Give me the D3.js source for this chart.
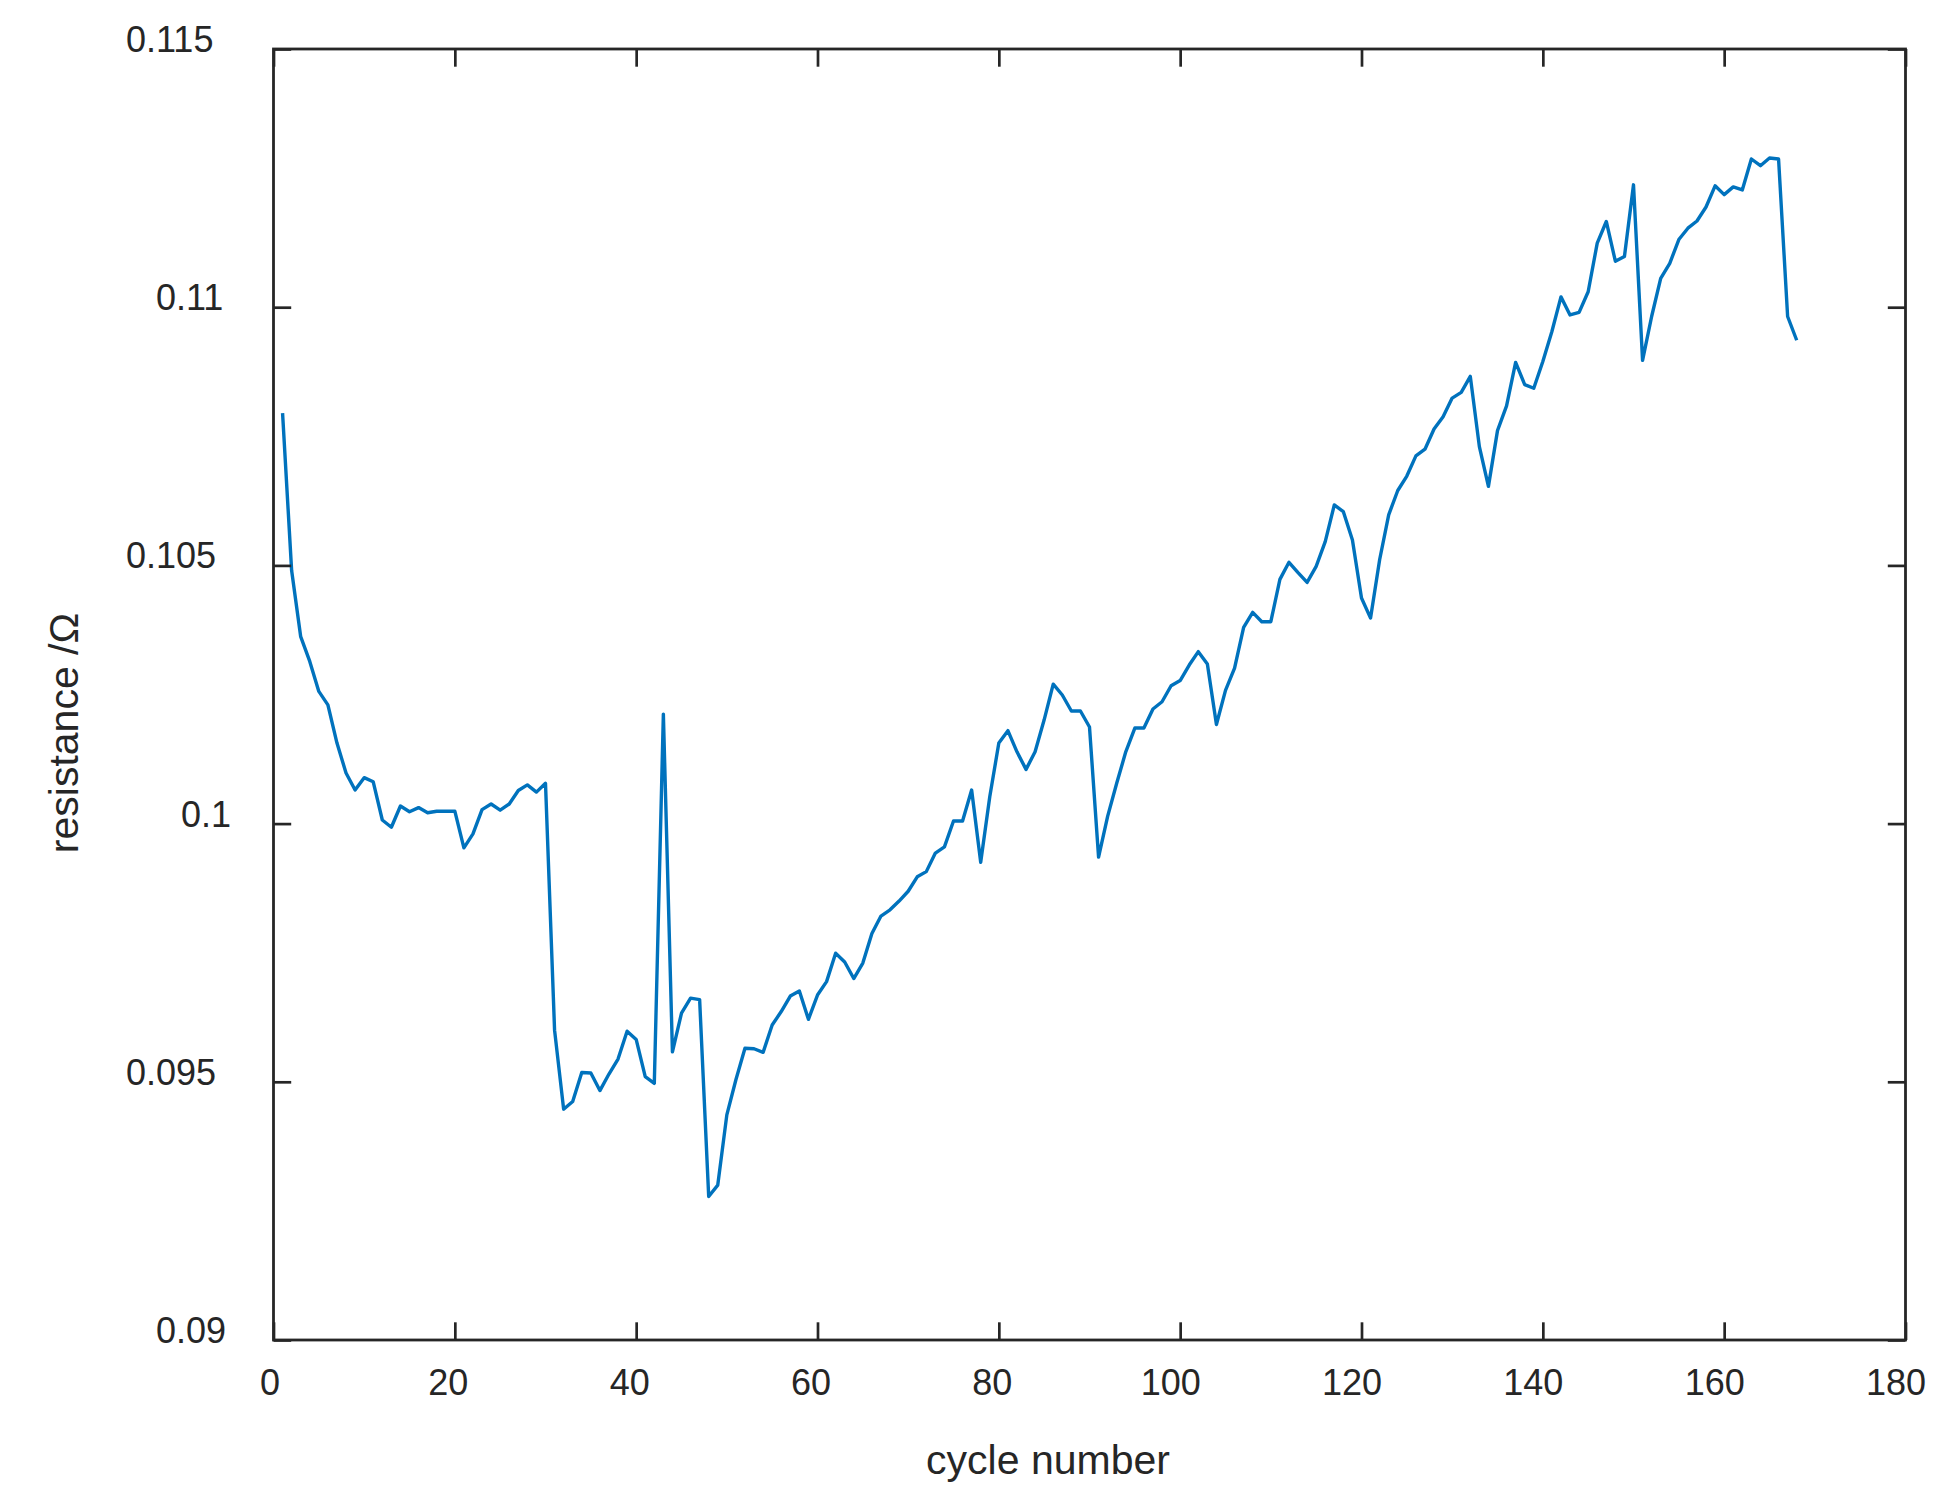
<!DOCTYPE html>
<html>
<head>
<meta charset="utf-8">
<script src="https://cdn.jsdelivr.net/npm/d3@7"></script>
<style>
  html, body { margin: 0; padding: 0; background: #ffffff; }
  svg { display: block; }
  text { font-family: "Liberation Sans", Arial, Helvetica, sans-serif; fill: #262626; }
</style>
</head>
<body>
<script>
// ---------------- data ----------------
const cycles = d3.range(1, 169);
const resistance = [
  0.10795, 0.10490, 0.10362, 0.10314, 0.10256, 0.10230, 0.10156, 0.10098, 0.10065, 0.10089,
  0.10081, 0.10007, 0.09993, 0.10034, 0.10023, 0.10031, 0.10021, 0.10024, 0.10024, 0.10024,
  0.09953, 0.09980, 0.10027, 0.10038, 0.10026, 0.10038, 0.10064, 0.10075, 0.10061, 0.10078,
  0.09600, 0.09447, 0.09462, 0.09518, 0.09517, 0.09483, 0.09515, 0.09544, 0.09598, 0.09582,
  0.09510, 0.09497, 0.10212, 0.09558, 0.09633, 0.09662, 0.09659, 0.09278, 0.09300, 0.09436,
  0.09504, 0.09565, 0.09564, 0.09557, 0.09610, 0.09636, 0.09666, 0.09676, 0.09621, 0.09668,
  0.09694, 0.09749, 0.09732, 0.09700, 0.09730, 0.09787, 0.09821, 0.09833, 0.09850, 0.09869,
  0.09897, 0.09907, 0.09943, 0.09955, 0.10005, 0.10005, 0.10065, 0.09925, 0.10052, 0.10156,
  0.10180, 0.10139, 0.10105, 0.10139, 0.10201, 0.10270, 0.10249, 0.10218, 0.10218, 0.10187,
  0.09935, 0.10014, 0.10078, 0.10139, 0.10185, 0.10185, 0.10222, 0.10236, 0.10267, 0.10277,
  0.10307, 0.10333, 0.10309, 0.10192, 0.10258, 0.10301, 0.10380, 0.10409, 0.10391, 0.10391,
  0.10473, 0.10506, 0.10486, 0.10467, 0.10498, 0.10546, 0.10617, 0.10604, 0.10549, 0.10437,
  0.10398, 0.10511, 0.10598, 0.10645, 0.10673, 0.10712, 0.10725, 0.10764, 0.10788, 0.10824,
  0.10835, 0.10866, 0.10730, 0.10653, 0.10761, 0.10809, 0.10893, 0.10850, 0.10843, 0.10895,
  0.10953, 0.11020, 0.10985, 0.10990, 0.11030, 0.11124, 0.11166, 0.11089, 0.11098, 0.11237,
  0.10897, 0.10982, 0.11056, 0.11085, 0.11131, 0.11153, 0.11167, 0.11194, 0.11235, 0.11218,
  0.11233, 0.11227, 0.11287, 0.11274, 0.11289, 0.11287, 0.10982, 0.10936
];
const xTicks = [0, 20, 40, 60, 80, 100, 120, 140, 160, 180];
const xTickLabels = ["0", "20", "40", "60", "80", "100", "120", "140", "160", "180"];
const yTicks = [0.09, 0.095, 0.1, 0.105, 0.11, 0.115];
const yTickLabels = ["0.09", "0.095", "0.1", "0.105", "0.11", "0.115"];
const xTitle = "cycle number";
const yTitle = "resistance /Ω";

// ---------------- layout ----------------
const W = 1949, H = 1502;
const L = 273.5, R = 1905.5, T = 49, B = 1340;
const axisColor = "#262626";
const tickLen = 17.7;

const svg = d3.select("body").append("svg").attr("width", W).attr("height", H);

const x = d3.scaleLinear().domain([0, 180]).range([L, R]);
const y = d3.scaleLinear().domain([0.09, 0.115]).range([B, T]);

// line
const data = cycles.map((c, i) => ({ c, r: resistance[i] }));
svg.append("path")
  .datum(data)
  .attr("fill", "none")
  .attr("stroke", "#0072BD")
  .attr("stroke-width", 3.4)
  .attr("stroke-linejoin", "round")
  .attr("d", d3.line().x(d => x(d.c)).y(d => y(d.r)));

function styleAxis(g) {
  g.select(".domain").remove();
  g.selectAll(".tick line").attr("stroke", axisColor).attr("stroke-width", 2.7);
  g.selectAll(".tick text").attr("fill", axisColor).style("font-size", "36px");
}

// bottom axis
const gx = svg.append("g").attr("transform", `translate(0,${B})`)
  .call(d3.axisBottom(x).tickValues(xTicks).tickSize(-tickLen).tickSizeOuter(0)
    .tickFormat((d, i) => xTickLabels[i]));
styleAxis(gx);
gx.selectAll(".tick text").attr("y", 55).attr("dy", 0)
  .attr("dx", (d, i) => -(1 + 3 * xTickLabels[i].length));

// top axis (ticks only)
const gt = svg.append("g").attr("transform", `translate(0,${T})`)
  .call(d3.axisTop(x).tickValues(xTicks).tickSize(-tickLen).tickSizeOuter(0).tickFormat(""));
styleAxis(gt);

// left axis
const leftStart = { 3: 181, 4: 156, 5: 126 };
const gy = svg.append("g").attr("transform", `translate(${L},0)`)
  .call(d3.axisLeft(y).tickValues(yTicks).tickSize(-tickLen).tickSizeOuter(0)
    .tickFormat((d, i) => yTickLabels[i]));
styleAxis(gy);
gy.selectAll(".tick text")
  .attr("text-anchor", "start")
  .attr("x", (d, i) => leftStart[yTickLabels[i].length] - L)
  .attr("dy", 0).attr("y", 2.5);

// right axis (ticks only)
const gr = svg.append("g").attr("transform", `translate(${R},0)`)
  .call(d3.axisRight(y).tickValues(yTicks).tickSize(-tickLen).tickSizeOuter(0).tickFormat(""));
styleAxis(gr);

// box
svg.append("rect")
  .attr("x", L).attr("y", T).attr("width", R - L).attr("height", B - T)
  .attr("fill", "none").attr("stroke", axisColor).attr("stroke-width", 2.8);

// titles
svg.append("text")
  .attr("x", 1048).attr("y", 1474)
  .attr("text-anchor", "middle")
  .style("font-size", "41px")
  .text(xTitle);

svg.append("text")
  .attr("transform", "translate(78,733) rotate(-90)")
  .attr("text-anchor", "middle")
  .style("font-size", "41px")
  .text(yTitle);
</script>
</body>
</html>
